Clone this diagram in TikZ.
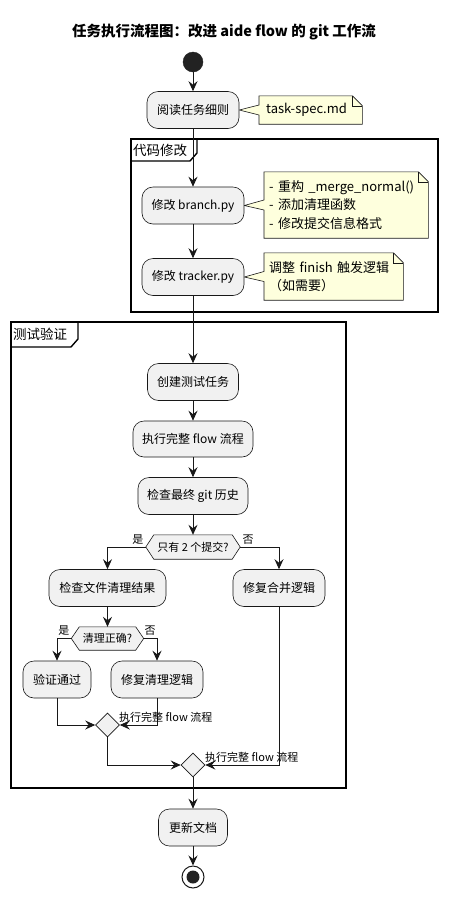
\documentclass[tikz,border=0pt]{standalone}
\usepackage{fontspec}
\setmainfont{Noto Sans CJK SC}
\usetikzlibrary{arrows.meta,shapes.geometric,backgrounds,calc}
\definecolor{boxfill}{HTML}{F1F1F1}
\definecolor{linec}{HTML}{181818}
\definecolor{notefill}{HTML}{FEFFDD}
\definecolor{startc}{HTML}{222222}
\newcommand\notefnt{\fontsize{13}{18.5}\selectfont}
\newcommand\drawnote[2]{%
  \draw[noteshape] (#1.north west) -- ($(#1.north east)+(-10,0)$) -- ($(#1.north east)+(0,10)$) -- (#1.south east) -- (#1.south west) -- ($(#1.west)+(0,5)$) -- (#2.east) -- ($(#1.west)+(0,-5)$) -- cycle;
  \draw[noteshape,fill=none] ($(#1.north east)+(-10,0)$) -- ($(#1.north east)+(-10,10)$) -- ($(#1.north east)+(0,10)$);}
\newcommand\drawhex[1]{%
  \draw[hexshape] (#1.west) -- ($(#1.north west)+(8,0)$) -- ($(#1.north east)+(-8,0)$) -- (#1.east) -- ($(#1.south east)+(-8,0)$) -- ($(#1.south west)+(8,0)$) -- cycle;}
\begin{document}
\begin{tikzpicture}[x=1pt,y=-1pt,
  font=\fontsize{12}{14}\selectfont,
  act/.style={draw=linec, fill=boxfill, line width=0.6pt, rounded corners=11pt, minimum height=37pt, inner sep=2pt, align=center},
  arr/.style={draw=linec, line width=0.9pt, -{Stealth[length=10pt,width=9pt,inset=3.5pt]}},
  notetxt/.style={inner ysep=0pt, inner xsep=6pt, align=left, anchor=west, font=\notefnt},
  noteshape/.style={draw=linec, fill=notefill, line width=0.6pt, line join=miter},
  hexshape/.style={draw=linec, fill=boxfill, line width=0.6pt},
  dectxt/.style={inner sep=0pt, minimum height=24pt, font=\fontsize{11}{13}\selectfont},
  grp/.style={draw=black, line width=1.4pt},
  grplbl/.style={anchor=west, inner sep=0pt, font=\fontsize{13.5}{15}\selectfont},
  lbl/.style={font=\fontsize{11}{13}\selectfont, inner sep=1pt},
  merge/.style={diamond, draw=linec, fill=boxfill, line width=0.6pt, minimum width=24pt, minimum height=24pt, inner sep=0pt},
]
\begin{scope}[on background layer]
  \fill[white] (0,0) rectangle (448,898);
\end{scope}
\useasboundingbox (0,0) rectangle (448,898);

% title
\node[font=\bfseries\fontsize{14.5}{17}\selectfont] (title) at (224,32) {任务执行流程图：改进 aide flow 的 git 工作流};

% groups
\draw[grp] (131,139) rectangle (438,312);
\draw[grp] (131,161) -- (190,161) -- (197,153) -- (197,139);
\node[grplbl] (g1) at (133,150) {代码修改};
\draw[grp] (11,322) rectangle (346,788);
\draw[grp] (11,347) -- (71,347) -- (78,339) -- (78,322);
\node[grplbl] (g2) at (13,334.5) {测试验证};

% start / end
\node[circle, fill=startc, draw=startc, minimum size=20pt, inner sep=0pt] (start) at (193,62) {};

% activities
\node[act, minimum width=92pt] (b0) at (193,110) {阅读任务细则};
\node[act, minimum width=102pt] (b1) at (193,205.5) {修改 branch.py};
\node[act, minimum width=102pt] (b2) at (193,277) {修改 tracker.py};
\node[act, minimum width=91pt] (b3) at (193,382) {创建测试任务};
\node[act, minimum width=120pt, minimum height=36pt] (b4) at (193,439) {执行完整 flow 流程};
\node[act, minimum width=110pt] (b5) at (193,496) {检查最终 git 历史};
\node[act, minimum width=117pt] (b6) at (107.5,588) {检查文件清理结果};
\node[act, minimum width=92pt] (b7) at (279,588) {修复合并逻辑};
\node[act, minimum width=68pt] (b8) at (57,679.5) {验证通过};
\node[act, minimum width=92pt] (b9) at (157,679.5) {修复清理逻辑};
\node[act, minimum width=69pt] (b10) at (193,827.5) {更新文档};

\node[circle, draw=linec, line width=1pt, fill=white, minimum size=22pt, inner sep=0pt] (end) at (193,877) {};
\node[circle, fill=startc, minimum size=13pt, inner sep=0pt] (endin) at (end.center) {};

% decisions
\node[dectxt, minimum width=94pt] (d1) at (193,547) {只有 2 个提交?};
\node[dectxt, minimum width=72pt, minimum height=23pt] (d2) at (107.5,638.5) {清理正确?};
\begin{scope}[on background layer]
  \drawhex{d1}
  \drawhex{d2}
\end{scope}
\node[merge] (m1) at (107.5,725) {};
\node[merge] (m2) at (193,765) {};

% notes
\node[notetxt, inner xsep=7pt, text width=89pt, minimum height=28pt] (n0) at (259,110) {\mbox{task-spec.md}};
\node[notetxt, inner xsep=5pt, text width=154pt, minimum height=66pt] (n1) at (264,205) {\mbox{- 重构 \_merge\_normal()}\\\mbox{- 添加清理函数}\\\mbox{- 修改提交信息格式}};
\node[notetxt, inner xsep=5pt, text width=129pt, minimum height=47pt] (n2) at (264,276.5) {\mbox{调整 finish 触发逻辑}\\\mbox{（如需要）}};
\begin{scope}[on background layer]
  \drawnote{n0}{b0}
  \drawnote{n1}{b1}
  \drawnote{n2}{b2}
\end{scope}

% connectors
\draw[arr] (start) -- (b0);
\draw[arr] (b0) -- (b1);
\draw[arr] (b1) -- (b2);
\draw[arr] (b2) -- (b3);
\draw[arr] (b3) -- (b4);
\draw[arr] (b4) -- (b5);
\draw[arr] (b5) -- (d1);
\draw[arr] (d1.west) -| (b6.north);
\draw[arr] (d1.east) -| (b7.north);
\draw[arr] (b6) -- (d2);
\draw[arr] (d2.west) -| (b8.north);
\draw[arr] (d2.east) -| (b9.north);
\draw[arr] (b8.south) |- (m1.west);
\draw[arr] (b9.south) |- (m1.east);
\draw[arr] (m1.south) |- (m2.west);
\draw[arr] (b7.south) |- (m2.east);
\draw[arr] (m2.south) -- (b10.north);
\draw[arr] (b10.south) -- (end.north);

% labels
\node[lbl, anchor=south east] (y1) at (144.5,546) {是};
\node[lbl, anchor=south west] (no1) at (241.5,546) {否};
\node[lbl, anchor=south east] (y2) at (70.5,637) {是};
\node[lbl, anchor=south west] (no2) at (143.5,637) {否};
\node[lbl, anchor=west] (ml1) at (118,717.5) {执行完整 flow 流程};
\node[lbl, anchor=west] (ml2) at (204,757.5) {执行完整 flow 流程};
\end{tikzpicture}
\end{document}
